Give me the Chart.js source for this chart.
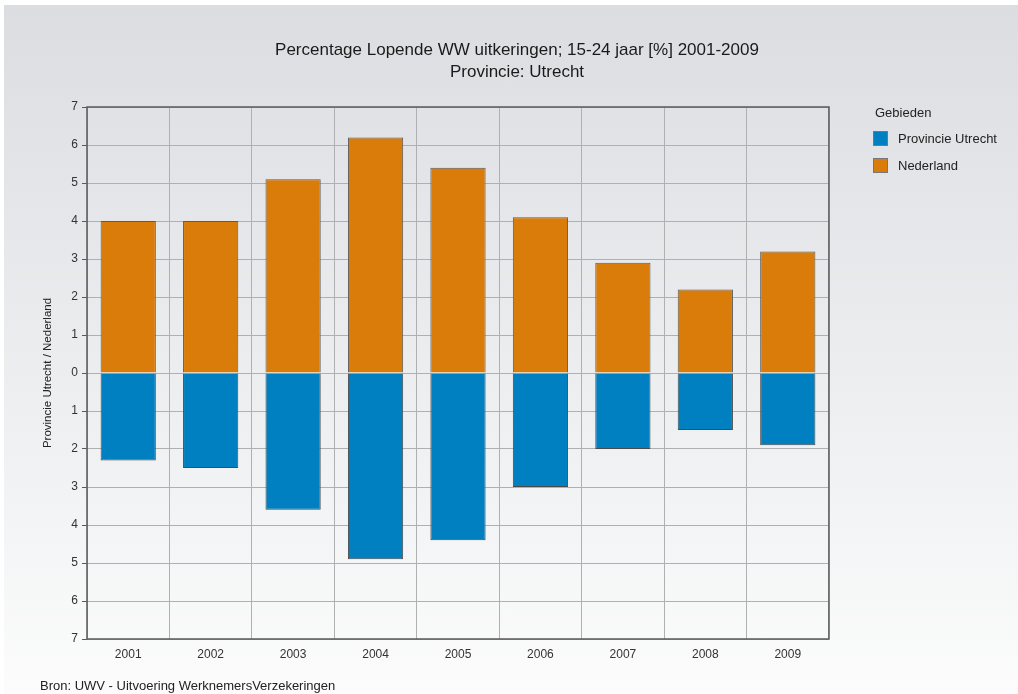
<!DOCTYPE html>
<html>
<head>
<meta charset="utf-8">
<script src="https://cdn.jsdelivr.net/npm/chart.js@4.4.0/dist/chart.umd.min.js"></script>
<style>
  html, body { margin: 0; padding: 0; background: #fff; }
  #wrap { position: relative; width: 1018px; height: 694px; }
  #bg { position: absolute; left: 4px; top: 5px; right: 0; bottom: 0;
        background: linear-gradient(to bottom, #dcdde1 0%, #eceef0 55%, #fcfcfc 100%); }
  canvas { position: absolute; left: 0; top: 0; }
  #bron { position: absolute; left: 40px; top: 678px; font: 13px "Liberation Sans", Arial, sans-serif; color: #222; }
</style>
</head>
<body>
<div id="wrap">
  <div id="bg"></div>
  <canvas id="wwChart" width="1018" height="694"></canvas>
  <div id="bron">Bron: UWV - Uitvoering WerknemersVerzekeringen</div>
</div>
<script>
const years = ['2001', '2002', '2003', '2004', '2005', '2006', '2007', '2008', '2009'];
const utrecht = [2.3, 2.5, 3.6, 4.9, 4.4, 3.0, 2.0, 1.5, 1.9];
const nederland = [4.0, 4.0, 5.1, 6.2, 5.4, 4.1, 2.9, 2.2, 3.2];
const titleLines = ['Percentage Lopende WW uitkeringen; 15-24 jaar [%] 2001-2009', 'Provincie: Utrecht'];

const fontFam = '"Liberation Sans", Arial, sans-serif';

// title (centred on the page), frame round the plot, legend on the right
const framePlugin = {
    id: 'frame',
    afterDraw(chart) {
        const { ctx, chartArea: a } = chart;
        ctx.save();
        ctx.strokeStyle = '#5a5a5a';
        ctx.lineWidth = 1.5;
        ctx.strokeRect(a.left, a.top, a.right - a.left, a.bottom - a.top);

        ctx.fillStyle = '#1a1a1a';
        ctx.font = '17px ' + fontFam;
        ctx.textAlign = 'center';
        ctx.textBaseline = 'middle';
        titleLines.forEach((t, i) => ctx.fillText(t, 517, 50 + i * 22));

        ctx.textAlign = 'left';
        ctx.font = '13px ' + fontFam;
        ctx.fillStyle = '#222';
        ctx.fillText('Gebieden', 875, 113);
        chart.data.datasets.forEach((ds, i) => {
            const y = 131 + i * 27;
            ctx.fillStyle = ds.backgroundColor;
            ctx.fillRect(873, y, 15, 15);
            ctx.strokeStyle = '#777';
            ctx.lineWidth = 1;
            ctx.strokeRect(873.5, y + 0.5, 14, 14);
            ctx.fillStyle = '#222';
            ctx.fillText(ds.label, 898, y + 8);
        });
        ctx.restore();
    }
};

const ctxWW = document.getElementById('wwChart').getContext('2d');
new Chart(ctxWW, {
    type: 'bar',
    data: {
        labels: years,
        datasets: [{
            label: 'Provincie Utrecht',
            data: utrecht.map(v => -v),
            backgroundColor: '#0080c0',
            borderColor: '#4a4a4a',
            borderWidth: 1,
            barPercentage: 0.67,
            categoryPercentage: 1
        }, {
            label: 'Nederland',
            data: nederland,
            backgroundColor: '#d97c0a',
            borderColor: '#5a5a5a',
            borderWidth: 1,
            barPercentage: 0.67,
            categoryPercentage: 1
        }]
    },
    options: {
        responsive: false,
        animation: false,
        layout: { padding: { top: 107, left: 37, right: 189, bottom: 25 } },
        plugins: {
            legend: { display: false },
            tooltip: { enabled: false },
            title: { display: false }
        },
        scales: {
            x: {
                stacked: true,
                grid: { color: '#b0b0b0', drawTicks: false, offset: true },
                border: { display: false },
                ticks: { color: '#333', font: { family: fontFam, size: 12 }, padding: 8 },
                afterFit(s) { s.height = 30; }
            },
            y: {
                stacked: true,
                min: -7,
                max: 7,
                ticks: {
                    stepSize: 1,
                    color: '#333',
                    font: { family: fontFam, size: 12 },
                    padding: 4,
                    callback: v => Math.abs(v)
                },
                grid: { color: '#b0b0b0', tickColor: '#5a5a5a', tickLength: 5 },
                border: { display: false },
                title: {
                    display: true,
                    text: 'Provincie Utrecht / Nederland',
                    color: '#222',
                    font: { family: fontFam, size: 11.5 },
                    padding: { top: 4, bottom: 4 }
                },
                afterFit(s) { s.width = 50; }
            }
        }
    },
    plugins: [framePlugin]
});
</script>
</body>
</html>
